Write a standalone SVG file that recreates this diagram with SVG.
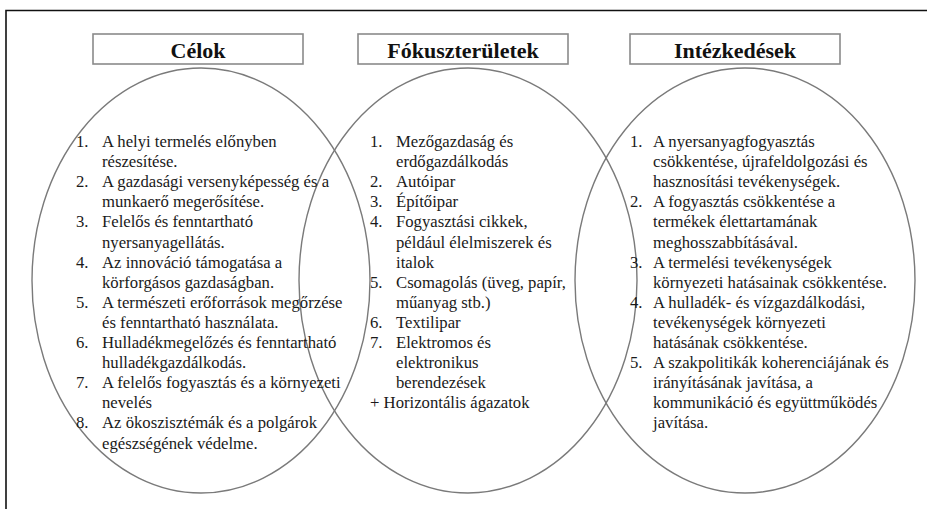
<svg xmlns="http://www.w3.org/2000/svg" width="927" height="509" viewBox="0 0 927 509">
<style>
.title{font-family:"Liberation Serif","Times New Roman",serif;font-weight:bold;font-size:22px;fill:#111;text-anchor:middle}
.t{font-family:"Liberation Serif","Times New Roman",serif;font-size:16.7px;fill:#1a1a1a}
.box{fill:#fff;stroke:#8a8a8a;stroke-width:1.6}
.ell{fill:none;stroke:#7a7a7a;stroke-width:1.4}
.frame{fill:none;stroke:#111;stroke-width:1.6}
</style>
<rect width="927" height="509" fill="#fff"/>
<g id="frame"><path class="frame" d="M6,515 V10.5 H935"/></g>
<g id="shapes">
<ellipse class="ell" cx="201" cy="280.5" rx="169" ry="212.5"/>
<ellipse class="ell" cx="468" cy="280.5" rx="169" ry="212.5"/>
<ellipse class="ell" cx="745" cy="280.5" rx="170" ry="212.5"/>
</g>
<g id="celok">
<rect class="box" x="93" y="34" width="210" height="30"/>
<text class="title" x="198" y="58">Célok</text>
<g class="t">
<text x="76" y="147">1.</text><text x="102" y="147">A helyi termelés előnyben</text>
<text x="102" y="167.1">részesítése.</text>
<text x="76" y="187.2">2.</text><text x="102" y="187.2">A gazdasági versenyképesség és a</text>
<text x="102" y="207.3">munkaerő megerősítése.</text>
<text x="76" y="227.4">3.</text><text x="102" y="227.4">Felelős és fenntartható</text>
<text x="102" y="247.5">nyersanyagellátás.</text>
<text x="76" y="267.6">4.</text><text x="102" y="267.6">Az innováció támogatása a</text>
<text x="102" y="287.7">körforgásos gazdaságban.</text>
<text x="76" y="307.8">5.</text><text x="102" y="307.8">A természeti erőforrások megőrzése</text>
<text x="102" y="327.9">és fenntartható használata.</text>
<text x="76" y="348">6.</text><text x="102" y="348">Hulladékmegelőzés és fenntartható</text>
<text x="102" y="368.1">hulladékgazdálkodás.</text>
<text x="76" y="388.2">7.</text><text x="102" y="388.2">A felelős fogyasztás és a környezeti</text>
<text x="102" y="408.3">nevelés</text>
<text x="76" y="428.4">8.</text><text x="102" y="428.4">Az ökoszisztémák és a polgárok</text>
<text x="102" y="448.5">egészségének védelme.</text>
</g>
</g>
<g id="fokuszteruletek">
<rect class="box" x="358" y="34" width="210" height="30"/>
<text class="title" x="463" y="58">Fókuszterületek</text>
<g class="t">
<text x="370" y="147">1.</text><text x="396" y="147">Mezőgazdaság és</text>
<text x="396" y="167.1">erdőgazdálkodás</text>
<text x="370" y="187.2">2.</text><text x="396" y="187.2">Autóipar</text>
<text x="370" y="207.3">3.</text><text x="396" y="207.3">Építőipar</text>
<text x="370" y="227.4">4.</text><text x="396" y="227.4">Fogyasztási cikkek,</text>
<text x="396" y="247.5">például élelmiszerek és</text>
<text x="396" y="267.6">italok</text>
<text x="370" y="287.7">5.</text><text x="396" y="287.7">Csomagolás (üveg, papír,</text>
<text x="396" y="307.8">műanyag stb.)</text>
<text x="370" y="327.9">6.</text><text x="396" y="327.9">Textilipar</text>
<text x="370" y="348">7.</text><text x="396" y="348">Elektromos és</text>
<text x="396" y="368.1">elektronikus</text>
<text x="396" y="388.2">berendezések</text>
<text x="370" y="408.3">+ Horizontális ágazatok</text>
</g>
</g>
<g id="intezkedesek">
<rect class="box" x="630" y="34" width="210" height="30"/>
<text class="title" x="735" y="58">Intézkedések</text>
<g class="t">
<text x="630" y="147">1.</text><text x="653" y="147">A nyersanyagfogyasztás</text>
<text x="653" y="167.1">csökkentése, újrafeldolgozási és</text>
<text x="653" y="187.2">hasznosítási tevékenységek.</text>
<text x="630" y="207.3">2.</text><text x="653" y="207.3">A fogyasztás csökkentése a</text>
<text x="653" y="227.4">termékek élettartamának</text>
<text x="653" y="247.5">meghosszabbításával.</text>
<text x="630" y="267.6">3.</text><text x="653" y="267.6">A termelési tevékenységek</text>
<text x="653" y="287.7">környezeti hatásainak csökkentése.</text>
<text x="630" y="307.8">4.</text><text x="653" y="307.8">A hulladék- és vízgazdálkodási,</text>
<text x="653" y="327.9">tevékenységek környezeti</text>
<text x="653" y="348">hatásának csökkentése.</text>
<text x="630" y="368.1">5.</text><text x="653" y="368.1">A szakpolitikák koherenciájának és</text>
<text x="653" y="388.2">irányításának javítása, a</text>
<text x="653" y="408.3">kommunikáció és együttműködés</text>
<text x="653" y="428.4">javítása.</text>
</g>
</g>
<g id="connectors"/>
</svg>
